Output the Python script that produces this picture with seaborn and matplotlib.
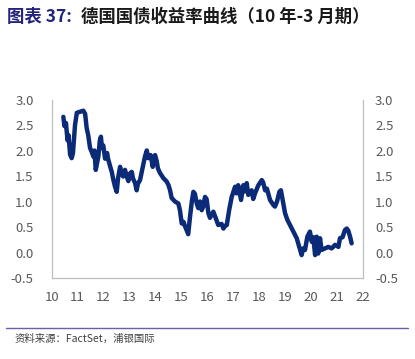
import matplotlib
matplotlib.use("Agg")
import matplotlib.pyplot as plt
import seaborn as sns
import pandas as pd

# ---- data ----
years = [10.45, 10.49, 10.55, 10.61, 10.65, 10.71, 10.77, 10.82, 10.90, 10.97,
         11.09, 11.22, 11.29, 11.35, 11.41, 11.48, 11.54, 11.61, 11.65, 11.70,
         11.75, 11.80, 11.86, 11.90, 11.94, 11.99, 12.06, 12.14, 12.17, 12.25,
         12.32, 12.37, 12.44, 12.51, 12.56, 12.64, 12.70, 12.76, 12.83, 12.89,
         12.96, 13.02, 13.09, 13.14, 13.22, 13.28, 13.33, 13.41, 13.51, 13.60,
         13.67, 13.73, 13.82, 13.90, 13.99, 14.05, 14.10, 14.18, 14.31, 14.44,
         14.51, 14.57, 14.63, 14.76, 14.89, 14.95, 15.02, 15.09, 15.15, 15.20,
         15.27, 15.34, 15.41, 15.47, 15.53, 15.60, 15.66, 15.73, 15.79, 15.85,
         15.92, 15.98, 16.05, 16.11, 16.24, 16.33, 16.43, 16.56, 16.63, 16.69,
         16.76, 16.85, 16.95, 17.08, 17.14, 17.20, 17.31, 17.40, 17.46, 17.53,
         17.59, 17.72, 17.78, 17.85, 17.98, 18.11, 18.16, 18.24, 18.31, 18.43,
         18.56, 18.62, 18.70, 18.79, 18.85, 18.94, 19.01, 19.10, 19.17, 19.27,
         19.33, 19.46, 19.56, 19.65, 19.71, 19.78, 19.87, 19.97, 20.04, 20.10,
         20.17, 20.23, 20.29, 20.36, 20.42, 20.55, 20.68, 20.81, 20.94, 21.07,
         21.13, 21.23, 21.32, 21.39, 21.45, 21.52, 21.58]
spread = [2.66, 2.48, 2.54, 2.20, 2.30, 1.92, 1.85, 1.95, 2.50, 2.74,
          2.76, 2.78, 2.72, 2.44, 2.30, 2.05, 1.98, 1.88, 2.00, 1.62,
          1.75, 1.88, 2.20, 2.27, 2.05, 2.10, 1.84, 1.95, 1.85, 1.70,
          1.58, 1.45, 1.30, 1.19, 1.45, 1.68, 1.55, 1.49, 1.62, 1.50,
          1.40, 1.55, 1.58, 1.45, 1.36, 1.22, 1.35, 1.42, 1.66, 1.88,
          2.00, 1.85, 1.91, 1.68, 1.91, 1.80, 1.65, 1.56, 1.46, 1.39,
          1.32, 1.22, 1.07, 1.00, 0.96, 0.83, 0.57, 0.60, 0.51, 0.45,
          0.36, 0.70, 1.00, 1.19, 1.15, 0.96, 0.87, 1.00, 0.83, 0.90,
          1.09, 1.05, 0.77, 0.68, 0.80, 0.68, 0.54, 0.56, 0.47, 0.52,
          0.54, 0.83, 1.09, 1.29, 1.16, 1.32, 1.03, 1.32, 1.20, 1.36,
          1.13, 1.22, 1.05, 1.16, 1.32, 1.42, 1.38, 1.22, 1.25, 1.03,
          0.93, 0.90, 1.00, 1.19, 1.22, 0.97, 0.77, 0.64, 0.57, 0.47,
          0.41, 0.28, 0.11, -0.05, 0.08, 0.05, 0.31, 0.41, 0.21, 0.30,
          -0.05, 0.31, -0.02, 0.28, 0.05, 0.08, 0.11, 0.08, 0.15, 0.11,
          0.28, 0.30, 0.44, 0.47, 0.43, 0.31, 0.18]
x_ticks = list(range(10, 23))
y_ticks = [-0.5, 0.0, 0.5, 1.0, 1.5, 2.0, 2.5, 3.0]

title_prefix = "图表 37:"
title_rest = "德国国债收益率曲线（10 年-3 月期）"
source = "资料来源：FactSet，浦银国际"

df = pd.DataFrame({"year": years, "spread": spread})

sns.set_style("white")
plt.rcParams["font.family"] = ["Noto Sans CJK SC", "DejaVu Sans"]

fig = plt.figure(figsize=(4.15, 3.59), dpi=100)
ax = fig.add_axes([0.1246, 0.2256, 0.7489, 0.4972])

sns.lineplot(data=df, x="year", y="spread", ax=ax, color="#0b2a78",
             linewidth=3.2, sort=False, estimator=None)

ax.set_xlim(10, 22)
ax.set_ylim(-0.5, 3.0)
ax.set_xticks(x_ticks)
ax.set_xticklabels([str(t) for t in x_ticks])
ax.set_yticks(y_ticks)
ax.set_yticklabels([f"{v:.1f}" for v in y_ticks])
ax.set_xlabel("")
ax.set_ylabel("")

gray = "#595959"
spine_c = "#bfbfbf"
for s in ["left", "bottom", "right"]:
    ax.spines[s].set_visible(True)
    ax.spines[s].set_color(spine_c)
    ax.spines[s].set_linewidth(0.9)
ax.spines["top"].set_visible(False)

ax.tick_params(axis="x", direction="in", length=3, color=spine_c, width=0.8,
               labelsize=9.5, labelcolor=gray, pad=9)
ax.tick_params(axis="y", length=0, labelsize=9.5, labelcolor=gray, pad=13)

ax2 = ax.twinx()
ax2.set_ylim(-0.5, 3.0)
ax2.set_yticks(y_ticks)
ax2.set_yticklabels([f"{v:.1f}" for v in y_ticks])
ax2.tick_params(axis="y", length=0, labelsize=9.5, labelcolor=gray, pad=9)
for s in ax2.spines.values():
    s.set_visible(False)

# title
t1 = fig.text(0.017, 0.952, title_prefix, fontsize=12.5, fontweight="bold",
              color="#23237a", va="center", ha="left")
fig.canvas.draw()
bb = t1.get_window_extent()
fig.text((bb.x1 + 9) / fig.bbox.width, 0.952, title_rest, fontsize=12.5,
         fontweight="bold", color="#1a1a1a", va="center", ha="left")

# bottom rule and source
fig.add_artist(plt.Line2D([0.015, 0.982], [0.087, 0.087], color="#6a5fa8",
                          linewidth=1.0, transform=fig.transFigure))
fig.text(0.036, 0.055, source, fontsize=7.5, color="#404040", va="center",
         ha="left")

fig.savefig("out.png", dpi=100)
